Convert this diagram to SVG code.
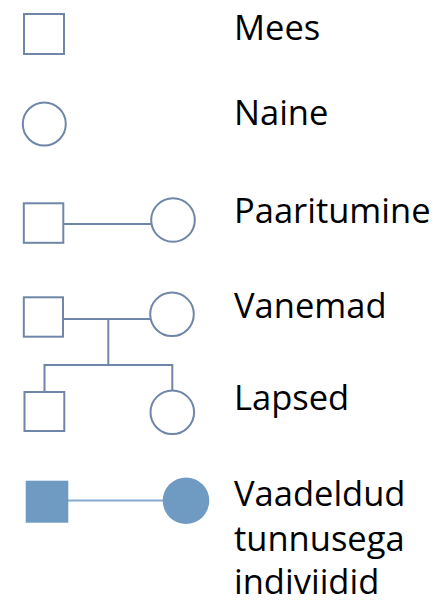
<svg xmlns="http://www.w3.org/2000/svg" width="436" height="603" viewBox="0 0 436 603">
  <style>
    .sym { fill: #ffffff; stroke: #6f86a9; stroke-width: 2; }
    .link { fill: none; stroke: #6f86a9; stroke-width: 2; }
    .aff { fill: #6f9bc2; stroke: none; }
    .afflink { fill: none; stroke: #86aad0; stroke-width: 2.2; }
    .label { font-family: "Open Sans", "Noto Sans", sans-serif; font-size: 34.5px; fill: #000000; }
  </style>
  <rect width="436" height="603" fill="#ffffff"/>

  <!-- connectors -->
  <g id="connectors">
    <line class="link" x1="64" y1="224" x2="151" y2="224"/>
    <line class="link" x1="63" y1="319" x2="150" y2="319"/>
    <line class="link" x1="108.3" y1="319" x2="108.3" y2="365"/>
    <polyline class="link" points="44.5,392 44.5,365 172.3,365 172.3,390.5"/>
    <line class="afflink" x1="68" y1="500.5" x2="163" y2="500.5"/>
  </g>

  <!-- legend: male -->
  <g id="male">
    <rect class="sym" x="24" y="14" width="40" height="40"/>
    <text class="label" x="234" y="39.5">Mees</text>
  </g>

  <!-- legend: female -->
  <g id="female">
    <circle class="sym" cx="44.3" cy="124" r="21.5"/>
    <text class="label" x="234" y="125">Naine</text>
  </g>

  <!-- legend: mating -->
  <g id="mating">
    <rect class="sym" x="23.8" y="203.3" width="39.5" height="39.5"/>
    <circle class="sym" cx="173" cy="220" r="21.8"/>
    <text class="label" x="234" y="223">Paaritumine</text>
  </g>

  <!-- legend: parents -->
  <g id="parents">
    <rect class="sym" x="23.8" y="297.3" width="39.2" height="39.4"/>
    <circle class="sym" cx="172" cy="314.3" r="21.8"/>
    <text class="label" x="234" y="318">Vanemad</text>
  </g>

  <!-- legend: children -->
  <g id="children">
    <rect class="sym" x="24.5" y="392" width="39.8" height="39"/>
    <circle class="sym" cx="172.3" cy="412.3" r="21.8"/>
    <text class="label" x="234" y="410">Lapsed</text>
  </g>

  <!-- legend: affected individuals -->
  <g id="affected">
    <rect class="aff" x="25.7" y="480.7" width="42.6" height="42"/>
    <circle class="aff" cx="186" cy="500.7" r="23.3"/>
    <text class="label" x="234" y="505.5">Vaadeldud</text>
    <text class="label" x="234" y="550.5">tunnusega</text>
    <text class="label" x="234" y="593.5">indiviidid</text>
  </g>
</svg>
